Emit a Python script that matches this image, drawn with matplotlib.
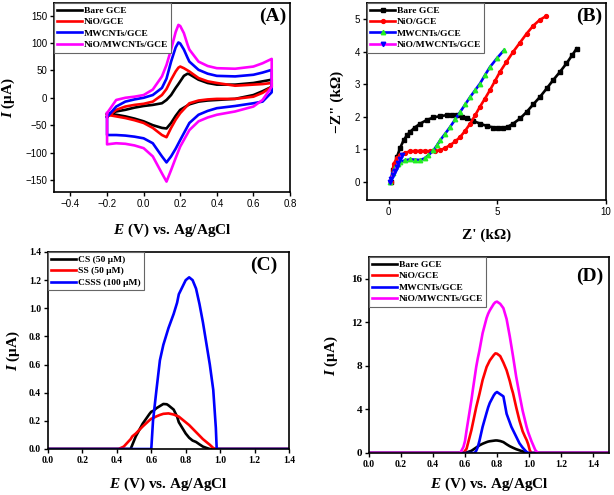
import matplotlib
matplotlib.use("Agg")
import matplotlib.pyplot as plt
import numpy as np

# ---------------- data ----------------
# Panel A: cyclic voltammograms (forward / reverse branches)
cv_x_fwd = [-0.2, -0.15, -0.1, -0.05, 0.0, 0.05, 0.1, 0.125, 0.15, 0.175, 0.19, 0.2,
            0.22, 0.24, 0.25, 0.3, 0.35, 0.4, 0.5, 0.6, 0.65, 0.7]
cv_x_rev = [0.7, 0.65, 0.6, 0.5, 0.4, 0.35, 0.3, 0.25, 0.2, 0.175, 0.15, 0.125, 0.1,
            0.05, 0.0, -0.05, -0.1, -0.15, -0.2]
cv_bare_fwd = [-30, -25, -22, -18, -15, -13, -10, -4, 5, 18, 25, 30, 40, 44, 43, 33, 27, 24, 24, 27, 30, 33]
cv_bare_rev = [20, 12, 5, -2, -4, -5, -7, -12, -22, -33, -46, -56, -55, -50, -43, -38, -34, -31, -29]
cv_nio_fwd = [-35, -22, -16, -13, -11, -7, 5, 16, 33, 48, 55, 57, 54, 50, 48, 36, 30, 27, 22, 24, 25, 27]
cv_nio_rev = [20, 9, 2, -2, -2, -3, -5, -10, -28, -40, -55, -72, -68, -55, -46, -41, -37, -34, -31]
cv_mw_fwd = [-35, -16, -7, -3, 0, 5, 18, 35, 66, 92, 101, 99, 88, 73, 66, 51, 44, 40, 39, 42, 46, 51]
cv_mw_rev = [10, -7, -10, -15, -19, -24, -31, -46, -77, -93, -107, -118, -107, -83, -74, -71, -69, -68, -68]
cv_niomw_fwd = [-28, -4, 0, 2, 5, 15, 39, 60, 88, 120, 133, 131, 118, 97, 88, 66, 58, 54, 53, 57, 63, 71]
cv_niomw_rev = [20, -4, -16, -25, -31, -36, -43, -59, -89, -110, -132, -153, -138, -107, -92, -87, -84, -83, -85]

# Panel B: Nyquist plots (Z', -Z'') in kOhm
eis_bare_x = [0.1, 0.2, 0.38, 0.53, 0.69, 0.84, 0.99, 1.2, 1.45, 1.75, 2.06, 2.37, 2.68, 2.9, 3.13,
              3.36, 3.59, 3.9, 4.2, 4.5, 4.82, 5.05, 5.28, 5.5, 5.73, 6.05, 6.35, 6.65, 6.96, 7.27,
              7.57, 7.88, 8.18, 8.45, 8.65]
eis_bare_y = [0.0, 0.35, 0.77, 1.05, 1.28, 1.43, 1.54, 1.67, 1.79, 1.9, 1.98, 2.02, 2.05, 2.05, 2.05,
              2.0, 1.95, 1.87, 1.79, 1.72, 1.67, 1.65, 1.66, 1.7, 1.79, 1.95, 2.15, 2.38, 2.61, 2.87,
              3.13, 3.38, 3.64, 3.9, 4.1]
eis_nio_x = [0.1, 0.23, 0.38, 0.54, 0.75, 0.99, 1.22, 1.45, 1.68, 1.91, 2.14, 2.37, 2.6, 2.83, 3.06,
             3.29, 3.52, 3.75, 3.98, 4.2, 4.43, 4.66, 4.89, 5.12, 5.42, 5.73, 6.04, 6.35, 6.65, 6.95, 7.23]
eis_nio_y = [0.0, 0.56, 0.72, 0.82, 0.89, 0.94, 0.95, 0.95, 0.95, 0.94, 0.95, 0.97, 1.04, 1.13, 1.24,
             1.38, 1.57, 1.79, 2.05, 2.31, 2.56, 2.82, 3.1, 3.38, 3.69, 4.0, 4.28, 4.56, 4.8, 4.98, 5.09]
eis_mw_x = [0.08, 0.18, 0.31, 0.43, 0.54, 0.75, 0.99, 1.22, 1.45, 1.65, 1.83, 2.06, 2.22, 2.37, 2.6,
            2.83, 3.06, 3.29, 3.52, 3.75, 3.98, 4.2, 4.43, 4.66, 4.98, 5.31]
eis_mw_y = [0.0, 0.28, 0.46, 0.55, 0.61, 0.66, 0.69, 0.68, 0.67, 0.72, 0.82, 0.97, 1.12, 1.28, 1.48,
            1.69, 1.92, 2.15, 2.38, 2.61, 2.82, 3.02, 3.28, 3.53, 3.8, 4.05]
eis_niomw_x = [0.05, 0.12, 0.2, 0.28, 0.36, 0.44, 0.52, 0.61]
eis_niomw_y = [0.0, 0.1, 0.22, 0.33, 0.45, 0.57, 0.7, 0.82]

# Panel C: DPV of CS, SS, CSSS
c_x = [0.0, 0.41, 0.44, 0.48, 0.49, 0.51, 0.55, 0.59, 0.6, 0.61, 0.63, 0.65, 0.67, 0.69, 0.7, 0.73,
       0.75, 0.76, 0.8, 0.82, 0.84, 0.86, 0.88, 0.9, 0.92, 0.94, 0.96, 0.975, 0.98, 1.4]
c_cs = [0.0, 0.0, 0.0, 0.0, 0.03, 0.09, 0.18, 0.25, 0.265, 0.27, 0.29, 0.305, 0.32, 0.318, 0.31, 0.28,
        0.23, 0.19, 0.11, 0.08, 0.06, 0.05, 0.033, 0.017, 0.008, 0.0, 0.0, 0.0, 0.0, 0.0]
c_ss = [0.0, 0.0, 0.017, 0.07, 0.09, 0.11, 0.16, 0.205, 0.215, 0.22, 0.232, 0.242, 0.25, 0.252, 0.253,
        0.245, 0.235, 0.23, 0.19, 0.17, 0.145, 0.12, 0.095, 0.07, 0.05, 0.03, 0.007, 0.0, 0.0, 0.0]
c_csss = [0.0, 0.0, 0.0, 0.0, 0.0, 0.0, 0.0, 0.0, 0.0, 0.2, 0.42, 0.63, 0.74, 0.82, 0.86, 0.96,
          1.04, 1.1, 1.2, 1.22, 1.2, 1.14, 1.03, 0.9, 0.75, 0.6, 0.42, 0.15, 0.0, 0.0]

# Panel D: DPV at different electrodes
d_x = [0.0, 0.57, 0.59, 0.6, 0.61, 0.64, 0.65, 0.66, 0.67, 0.68, 0.69, 0.71, 0.735, 0.745, 0.755,
       0.78, 0.79, 0.8, 0.82, 0.84, 0.86, 0.88, 0.89, 0.9, 0.92, 0.94, 0.96, 0.975, 0.985, 0.995,
       1.005, 1.015, 1.04, 1.057, 1.5]
d_bare = [0.0, 0.0, 0.0, 0.0, 0.05, 0.2, 0.3, 0.4, 0.5, 0.6, 0.7, 0.85, 1.0, 1.05, 1.08, 1.13, 1.15,
          1.15, 1.1, 1.0, 0.8, 0.62, 0.55, 0.48, 0.35, 0.25, 0.15, 0.08, 0.0, 0.0, 0.0, 0.0, 0.0, 0.0, 0.0]
d_nio = [0.0, 0.0, 0.0, 0.2, 0.4, 2.1, 2.8, 3.5, 4.2, 4.8, 5.4, 6.7, 7.9, 8.2, 8.5, 9.0, 9.15,
         9.12, 8.9, 8.3, 7.6, 6.6, 6.0, 5.5, 4.2, 3.0, 2.0, 1.5, 1.2, 0.8, 0.25, 0.0, 0.0, 0.0, 0.0]
d_mw = [0.0, 0.0, 0.0, 0.0, 0.0, 0.0, 0.0, 0.0, 0.2, 0.55, 1.1, 2.4, 3.7, 4.2, 4.6, 5.3, 5.5,
        5.6, 5.4, 5.2, 3.6, 2.8, 2.4, 2.1, 1.5, 0.9, 0.5, 0.25, 0.1, 0.0, 0.0, 0.0, 0.0, 0.0, 0.0]
d_niomw = [0.0, 0.0, 0.55, 1.1, 2.1, 4.85, 5.9, 6.9, 7.9, 8.7, 9.4, 11.0, 12.4, 12.8, 13.1, 13.7,
           13.85, 13.9, 13.7, 13.3, 12.3, 10.7, 9.8, 8.9, 7.0, 5.4, 3.9, 3.0, 2.4, 1.9, 1.5, 1.1,
           0.25, 0.0, 0.0]

labels4 = ["Bare GCE", "NiO/GCE", "MWCNTs/GCE", "NiO/MWCNTs/GCE"]
labelsC = ["CS (50 μM)", "SS (50 μM)", "CSSS (100 μM)"]

# ---------------- style ----------------
plt.rcParams['mathtext.fontset'] = 'custom'
plt.rcParams['mathtext.it'] = 'Liberation Serif:italic:bold'
plt.rcParams['mathtext.rm'] = 'Liberation Serif:bold'
SERIF = 'Liberation Serif'
SANS = 'Liberation Sans'

W, H = 614, 495
fig = plt.figure(figsize=(W / 100, H / 100), dpi=100)


def rect(l, t, r, b):
    return [l / W, 1 - b / H, (r - l) / W, (b - t) / H]


def style_axes(ax, tickfont, tickweight, xsize, ysize):
    for s in ax.spines.values():
        s.set_linewidth(1.2)
    ax.tick_params(direction='out', length=3, width=1, pad=2)
    ax.tick_params(axis='x', labelsize=xsize)
    ax.tick_params(axis='y', labelsize=ysize)
    for lab in ax.get_xticklabels() + ax.get_yticklabels():
        lab.set_fontfamily(tickfont)
        lab.set_fontweight(tickweight)


def legend(ax, **kw):
    leg = ax.legend(loc='upper left', bbox_to_anchor=(0, 1), borderaxespad=0,
                    prop={'family': SERIF, 'weight': 'bold', 'size': 6.8},
                    fancybox=False, framealpha=1, edgecolor='#666666',
                    handlelength=2.6, handletextpad=0.2, labelspacing=0.3,
                    borderpad=0.35, **kw)
    leg.get_frame().set_linewidth(0.8)
    return leg


cols4 = ['black', 'red', 'blue', '#ff00ff']
LW = 1.9
LABFONT = dict(fontfamily=SERIF, fontweight='bold', fontsize=11)

# ---- Panel A ----
axA = fig.add_axes(rect(54, 3, 290, 192))
for fwd, rev, c, lab in [(cv_bare_fwd, cv_bare_rev, cols4[0], labels4[0]),
                         (cv_nio_fwd, cv_nio_rev, cols4[1], labels4[1]),
                         (cv_mw_fwd, cv_mw_rev, cols4[2], labels4[2]),
                         (cv_niomw_fwd, cv_niomw_rev, cols4[3], labels4[3])]:
    xs = list(cv_x_fwd) + list(cv_x_rev) + [cv_x_fwd[0]]
    ys = list(fwd) + list(rev) + [fwd[0]]
    axA.plot(xs, ys, color=c, lw=LW, label=lab)
axA.set_xlim(-0.49, 0.8)
axA.set_ylim(-172, 173)
axA.set_xticks(np.arange(-0.4, 0.81, 0.2))
axA.set_yticks(np.arange(-150, 151, 50))
axA.set_xticklabels(['−0.4', '−0.2', '0.0', '0.2', '0.4', '0.6', '0.8'])
style_axes(axA, SANS, 'normal', 7, 7)
axA.set_xlabel(r'$E$ (V) vs. Ag/AgCl', labelpad=9, **LABFONT)
axA.set_ylabel(r'$I$ (μA)', labelpad=6, **LABFONT)
legend(axA)
axA.text(0.925, 0.93, '(A)', transform=axA.transAxes, ha='center', va='center',
         fontfamily=SERIF, fontweight='bold', fontsize=14)

# ---- Panel B ----
axB = fig.add_axes(rect(367, 3, 606, 200))
axB.plot(eis_bare_x, eis_bare_y, color='black', lw=LW, marker='s', ms=2.8, label=labels4[0])
axB.plot(eis_nio_x, eis_nio_y, color='red', lw=LW, marker='o', ms=2.8, label=labels4[1])
axB.plot(eis_mw_x, eis_mw_y, color='blue', lw=LW, marker='^', ms=3.2, mfc='#22ee22', mec='#22ee22',
         label=labels4[2])
axB.plot(eis_niomw_x, eis_niomw_y, color='#ff00ff', lw=LW, marker='v', ms=3.2, mfc='blue', mec='blue',
         label=labels4[3])
axB.set_xlim(-1, 10)
axB.set_ylim(-0.56, 5.5)
axB.set_xticks([0, 5, 10])
axB.set_yticks([0, 1, 2, 3, 4, 5])
style_axes(axB, SANS, 'normal', 7, 7)
axB.set_xlabel("Z' (kΩ)", labelpad=8, **LABFONT)
axB.set_ylabel('−Z" (kΩ)', labelpad=8, **LABFONT)
legend(axB)
axB.text(0.93, 0.93, '(B)', transform=axB.transAxes, ha='center', va='center',
         fontfamily=SERIF, fontweight='bold', fontsize=14)

# ---- Panel C ----
axC = fig.add_axes(rect(48, 252, 289, 449))
axC.plot(c_x, c_cs, color='black', lw=LW, label=labelsC[0])
axC.plot(c_x, c_ss, color='red', lw=LW, label=labelsC[1])
axC.plot(c_x, c_csss, color='blue', lw=LW, label=labelsC[2])
axC.set_xlim(0, 1.4)
axC.set_ylim(0, 1.4)
ticksC = np.arange(0, 1.41, 0.2)
axC.set_xticks(ticksC)
axC.set_yticks(ticksC)
axC.set_xticklabels([f'{v:.1f}' for v in ticksC])
axC.set_yticklabels([f'{v:.1f}' for v in ticksC])
style_axes(axC, SERIF, 'bold', 7, 7)
axC.set_xlabel(r'$E$ (V) vs. Ag/AgCl', labelpad=8, **LABFONT)
axC.set_ylabel(r'$I$ (μA)', labelpad=5, **LABFONT)
legend(axC)
axC.text(0.895, 0.93, '(C)', transform=axC.transAxes, ha='center', va='center',
         fontfamily=SERIF, fontweight='bold', fontsize=14)

# ---- Panel D ----
axD = fig.add_axes(rect(369, 257, 609, 453))
for ys, c, lab in [(d_bare, cols4[0], labels4[0]), (d_nio, cols4[1], labels4[1]),
                   (d_mw, cols4[2], labels4[2]), (d_niomw, cols4[3], labels4[3])]:
    axD.plot(d_x, ys, color=c, lw=LW, label=lab)
axD.set_xlim(0, 1.5)
axD.set_ylim(0, 18)
ticksD = np.arange(0, 1.41, 0.2)
axD.set_xticks(ticksD)
axD.set_xticklabels([f'{v:.1f}' for v in ticksD])
axD.set_yticks([0, 4, 8, 12, 16])
style_axes(axD, SERIF, 'bold', 7, 8)
axD.set_xlabel(r'$E$ (V) vs. Ag/AgCl', labelpad=5, **LABFONT)
axD.set_ylabel(r'$I$ (μA)', labelpad=8, **LABFONT)
legend(axD)
axD.text(0.92, 0.9, '(D)', transform=axD.transAxes, ha='center', va='center',
         fontfamily=SERIF, fontweight='bold', fontsize=14)

fig.savefig('out.png', dpi=100)
